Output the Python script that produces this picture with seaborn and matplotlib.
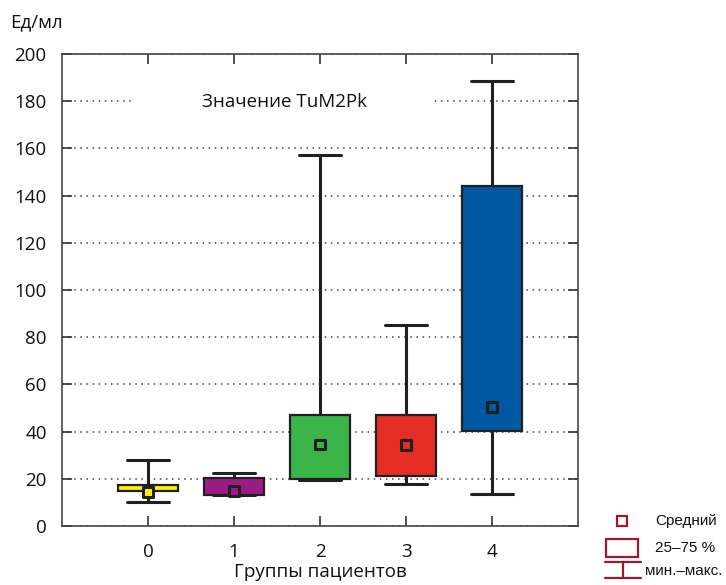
import numpy as np
import pandas as pd
import matplotlib
matplotlib.use("Agg")
import matplotlib.pyplot as plt
from matplotlib.patches import Rectangle
from matplotlib.lines import Line2D
import seaborn as sns

# data (Ед/мл)
groups = ["0", "1", "2", "3", "4"]
mins = [10.0, 13.0, 19.5, 18.0, 13.5]
q1s = [14.8, 13.2, 20.0, 21.0, 40.2]
medians = [16.0, 16.0, 30.0, 32.0, 70.0]   # not shown in the chart
q3s = [17.2, 20.4, 47.0, 47.0, 144.0]
maxs = [28.0, 22.5, 157.0, 85.0, 188.5]
means = [14.5, 14.7, 34.5, 34.4, 50.4]
colors = ["#fff200", "#9b1b86", "#3bb44a", "#e42d25", "#0058a2"]

rows = []
for g, a, b, c, d, e in zip(groups, mins, q1s, medians, q3s, maxs):
    for v in (a, b, c, d, e):
        rows.append({"group": g, "value": v})
df = pd.DataFrame(rows)
palette = dict(zip(groups, colors))

sns.set_theme(style="ticks")
plt.rcParams["font.family"] = ["Open Sans", "DejaVu Sans"]

dark = "#231f20"
fig = plt.figure(figsize=(7.26, 5.85), dpi=100)
ax = fig.add_axes([62 / 726, 1 - 526 / 585, 516 / 726, 472 / 585])

sns.boxplot(data=df, x="group", y="value", hue="group", palette=palette,
            order=groups, legend=False, saturation=1, width=0.7,
            whis=(0, 100), showfliers=False, linecolor=dark, linewidth=1.6,
            whiskerprops={"linewidth": 2.2}, capprops={"linewidth": 2.2},
            medianprops={"visible": False}, capwidths=0.48, ax=ax)

sns.scatterplot(x=groups, y=means, hue=groups, palette=palette, marker="s",
                s=50, edgecolor=dark, linewidth=2.2, legend=False, zorder=5, ax=ax)

ax.set_xlim(-1, 5)
ax.set_ylim(0, 200)
ax.set_yticks(np.arange(0, 201, 20))
ax.set_axisbelow(True)
ax.yaxis.grid(True, linestyle=(0, (1, 3)), color="#444444", linewidth=1.1)
ax.tick_params(axis="both", direction="in", length=7, width=1.2, color="#333333",
               top=True, right=True, labelsize=13.5, labelcolor="#111111")
ax.tick_params(axis="y", pad=11)
ax.tick_params(axis="x", pad=12)
for s in ax.spines.values():
    s.set_color("#444444")
    s.set_linewidth(1.2)

ax.set_xlabel("Группы пациентов", fontsize=13.5, color="#111111", labelpad=2)
ax.set_ylabel("")

# title box inside the plot
ax.add_patch(Rectangle((71 / 516, 0.87), 300 / 516, 0.06, transform=ax.transAxes,
                       facecolor="white", edgecolor="none", zorder=1))
ax.text(222 / 516, 0.898, "Значение TuM2Pk", transform=ax.transAxes,
        ha="center", va="center", fontsize=13.5, color="#111111", zorder=2)

fig.text(10 / 726, 1 - 22 / 585, "Ед/мл", ha="left", va="center", fontsize=13.5,
         color="#111111")

# legend drawn at the lower right
lc = "#a3162d"
H = 585
fig.add_artist(Line2D([622 / 726], [1 - 521 / H], marker="s", markersize=7,
                      markerfacecolor="white", markeredgecolor=lc,
                      markeredgewidth=1.6, linestyle="none"))
fig.add_artist(Rectangle((606 / 726, 1 - 557 / H), 32 / 726, 18 / H,
                         facecolor="white", edgecolor=lc, linewidth=1.6))
fig.add_artist(Line2D([605 / 726, 641 / 726], [1 - 562 / H] * 2, color=lc, linewidth=1.6))
fig.add_artist(Line2D([605 / 726, 641 / 726], [1 - 578 / H] * 2, color=lc, linewidth=1.6))
fig.add_artist(Line2D([623 / 726] * 2, [1 - 562 / H, 1 - 578 / H], color=lc, linewidth=1.6))
leg_font = ["Liberation Sans", "DejaVu Sans"]
fig.text(655 / 726, 1 - 521 / H, "Средний", fontsize=11, va="center", family=leg_font, color="#111111")
fig.text(655 / 726, 1 - 548 / H, "25–75 %", fontsize=11, va="center", family=leg_font, color="#111111")
fig.text(645 / 726, 1 - 571 / H, "мин.–макс.", fontsize=11, va="center", family=leg_font, color="#111111")

fig.savefig("out.png", dpi=100)
